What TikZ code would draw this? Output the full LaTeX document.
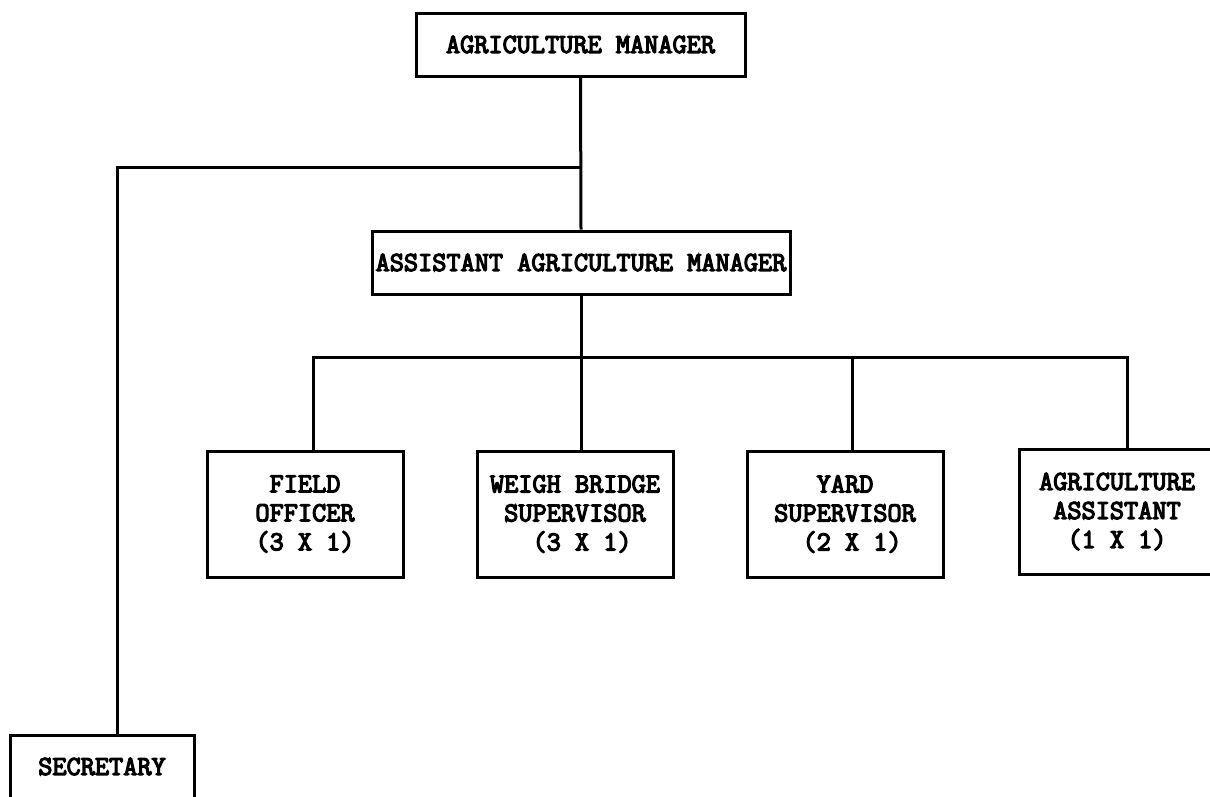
\documentclass[tikz,border=0pt]{standalone}
\usepackage{fontspec}
\newfontfamily\postfont{Latin Modern Mono}[FakeBold=4.5]
\usepackage{tikz}
\usetikzlibrary{positioning}

\begin{document}
\begin{tikzpicture}[
    x=1pt, y=-1pt,
    post/.style={draw=black, line width=3pt, inner sep=0pt,
                 align=center, font=\fontsize{27.5}{29}\selectfont\postfont},
    wide/.style={post, minimum height=63pt},
    unit/.style={post, minimum width=196pt, minimum height=126pt},
    link/.style={line width=3pt}
  ]
  \useasboundingbox (0,0) rectangle (1210,796);
  \clip (0,0) rectangle (1210,796);

  % managers
  \node[wide, minimum width=329pt] (mgr) at (580.5,44.5) {AGRICULTURE MANAGER};
  \node[wide, minimum width=418pt] (asst) at (581,262.5) {ASSISTANT AGRICULTURE MANAGER};
  \node[wide, minimum width=184pt] (sec) at (102,766.5) {SECRETARY};

  % sections
  \node[unit] (field) at (305,514) {FIELD\\OFFICER\\(3 X 1)};
  \node[unit] (weigh) at (575,514) {WEIGH BRIDGE\\SUPERVISOR\\\ (3 X 1)};
  \node[unit] (yard)  at (845,514) {YARD\\SUPERVISOR\\\ (2 X 1)};
  \node[unit, minimum height=125pt] (agri) at (1117,511.5) {AGRICULTURE\\ASSISTANT\\(1 X 1)};

  % tap points
  \coordinate (tap) at (580,167);
  \coordinate (bus) at (581,357);

  % links
  \draw[link] (mgr.south) -- (asst.north);
  \draw[link] (tap) -| ([xshift=15pt]sec.north);
  \draw[link] (asst.south) -- (asst.south |- weigh.north);
  \draw[link] ([xshift=8pt]field.north) |- (bus) -| ([xshift=10pt]agri.north);
  \draw[link] ([xshift=7pt]yard.north) -- ([xshift=7pt]yard.north |- bus);
\end{tikzpicture}
\end{document}
